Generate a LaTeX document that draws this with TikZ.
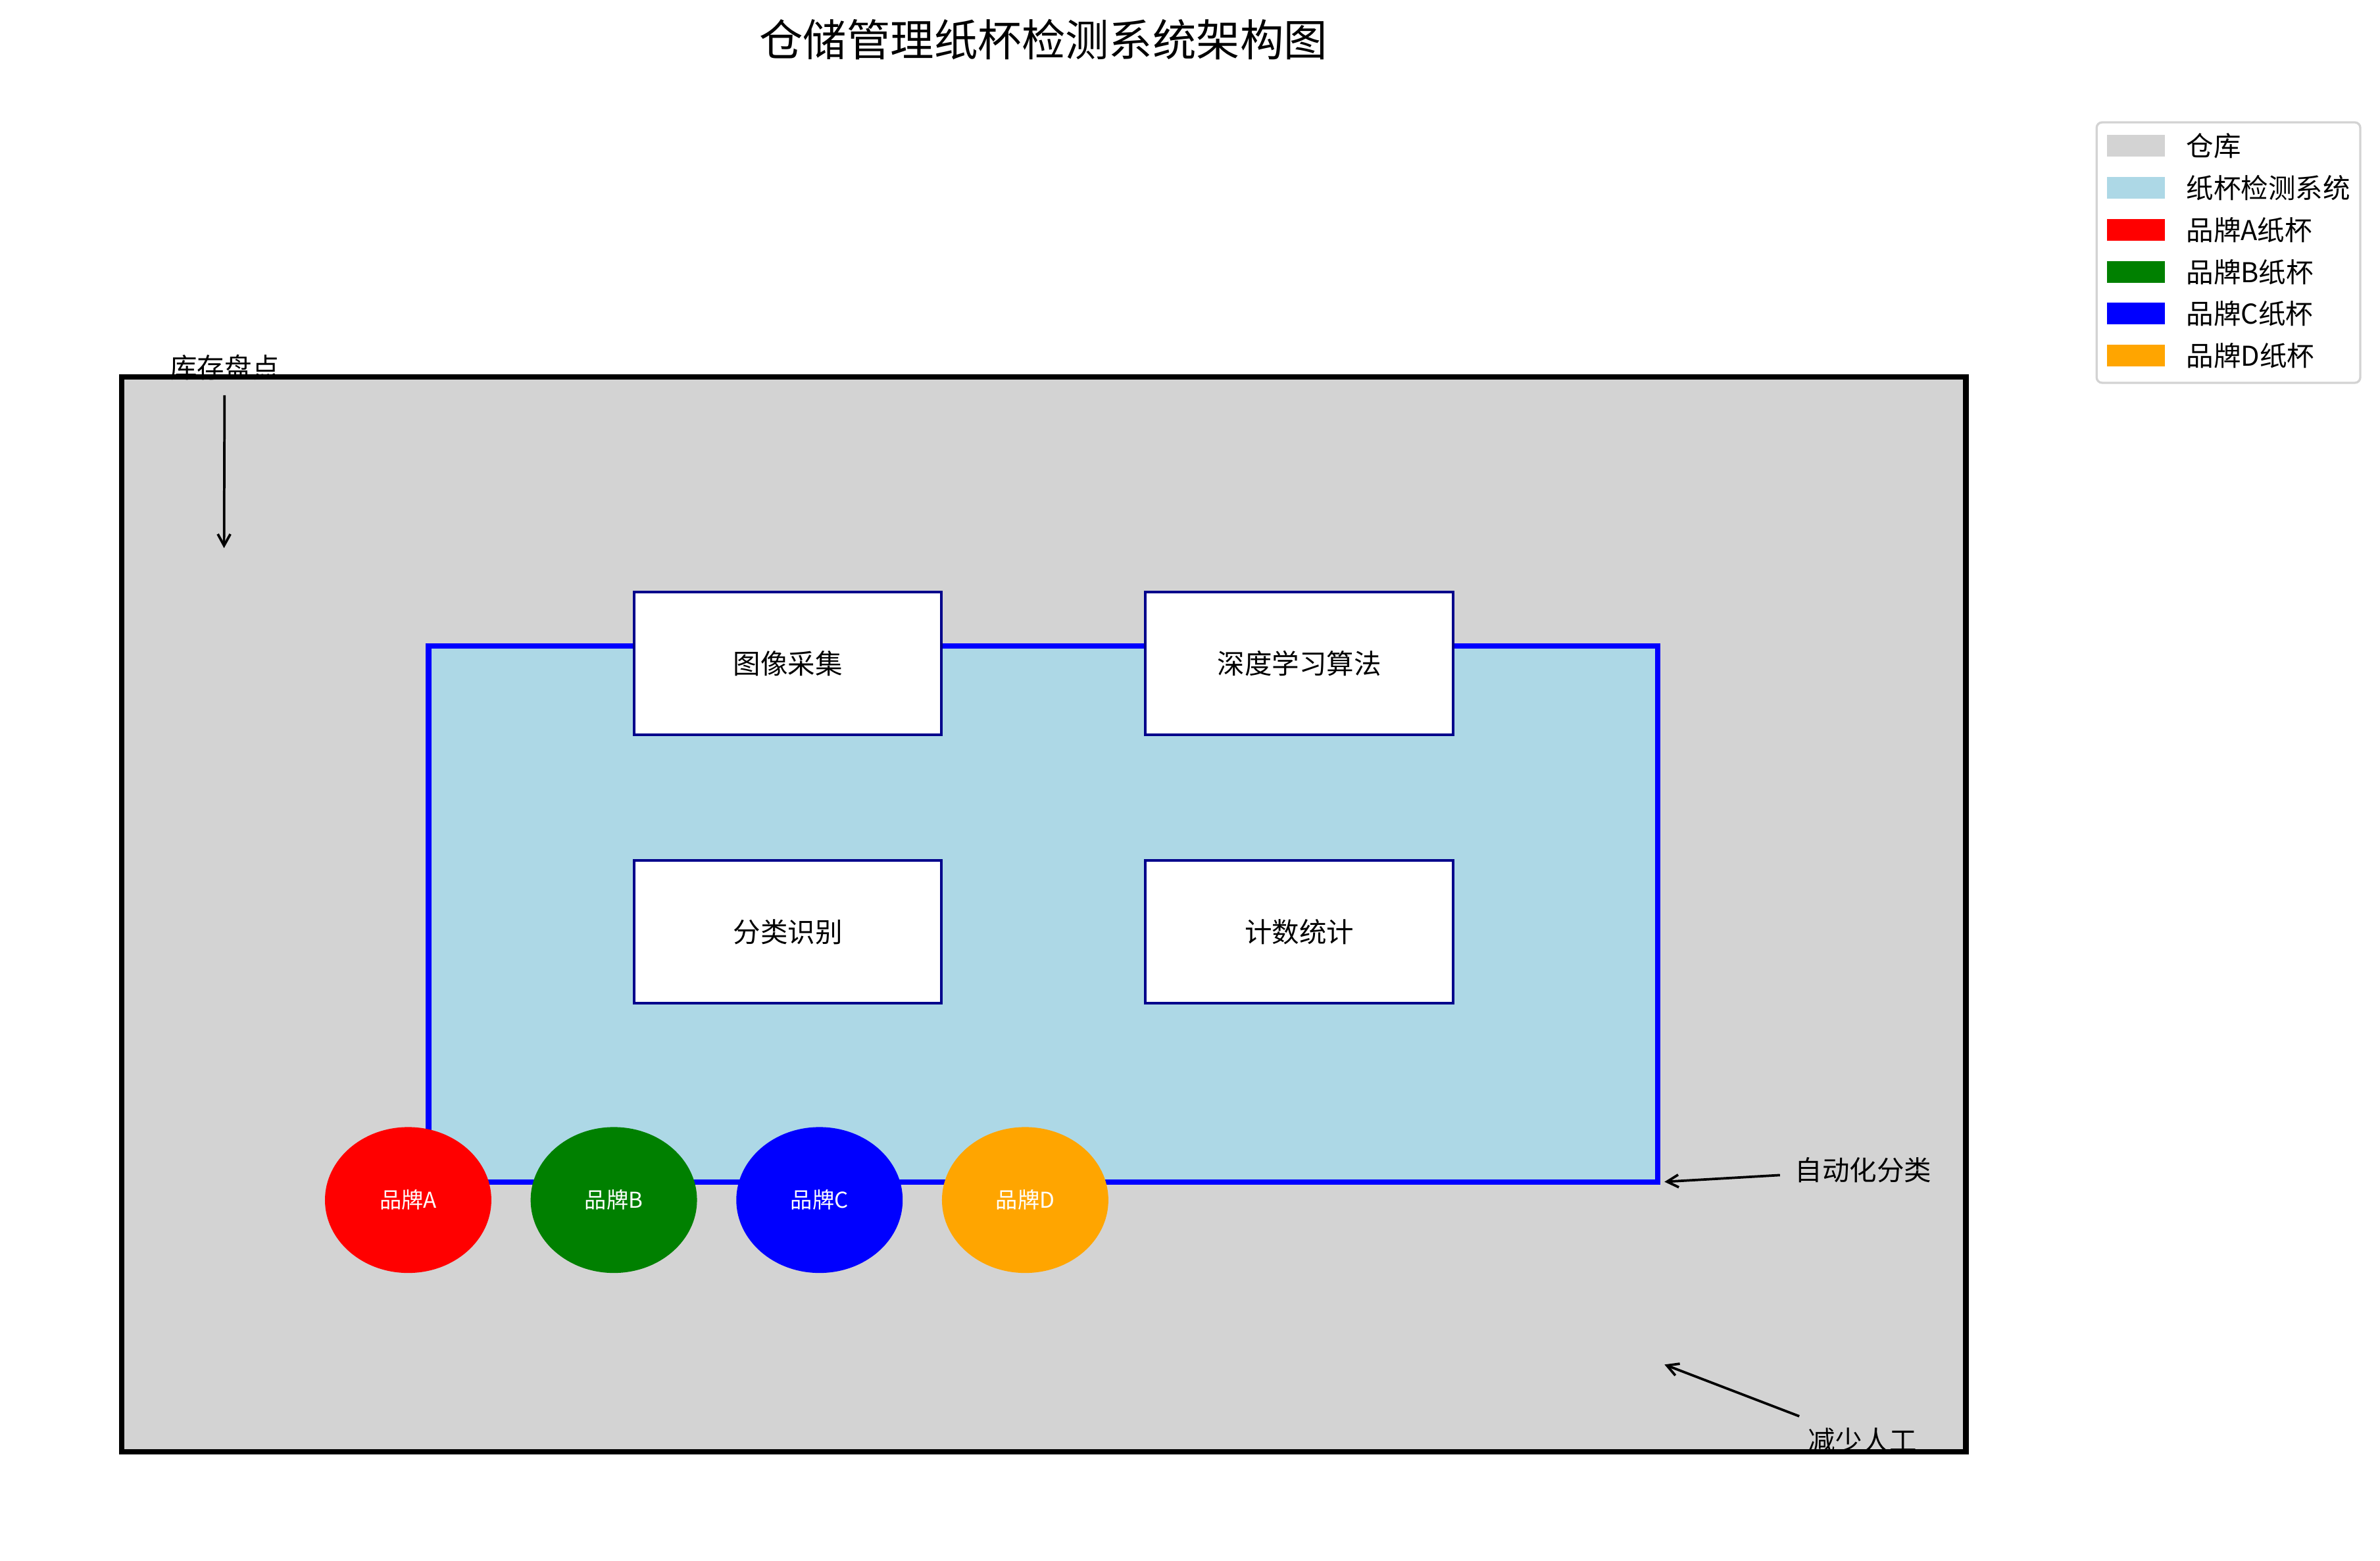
\documentclass[tikz,border=0pt]{standalone}
\usepackage{fontspec}
\setmainfont{Noto Sans CJK SC}
\usetikzlibrary{shapes.geometric, arrows.meta}

\definecolor{warehousegray}{HTML}{D3D3D3}
\definecolor{systemblue}{HTML}{ADD8E6}
\definecolor{cupgreen}{HTML}{008000}
\definecolor{cuporange}{HTML}{FFA500}
\definecolor{boxnavy}{HTML}{00008B}
\definecolor{legendframe}{HTML}{D3D3D3}

\begin{document}
\begin{tikzpicture}[x=0.019536cm, y=-0.019536cm,
        modulebox/.style={rectangle, draw=boxnavy, line width=1pt, fill=white, minimum width=3.958cm, minimum height=1.836cm, font=\fontsize{10}{12}\selectfont},
        brandcup/.style={ellipse, inner sep=0pt, minimum width=2.141cm, minimum height=1.877cm, text=white, font=\fontsize{8}{10}\selectfont},
        legendpatch/.style={rectangle, inner sep=0pt, minimum width=0.748cm, minimum height=0.277cm},
        legendtext/.style={anchor=west, inner sep=0pt, font=\fontsize{10}{12}\selectfont},
        notetext/.style={font=\fontsize{10}{12}\selectfont},
        notearrow/.style={-{Straight Barb[length=4.2pt, width=4.6pt]}, line width=0.9pt, shorten <=2pt}]

        \useasboundingbox (0,0) rectangle (1568,1028);

        % Title
        \node[font=\fontsize{16}{19}\selectfont] (title) at (687.5,26) {仓储管理纸杯检测系统架构图};

        % Warehouse
        \node[rectangle, fill=warehousegray, minimum width=23.717cm, minimum height=13.816cm] (warehouse) at (687.6,602.4) {};

        % Detection system
        \node[rectangle, draw=blue, line width=2pt, fill=systemblue, minimum width=15.816cm, minimum height=6.9cm] (system) at (687.2,602.2) {};

        % Modules
        \node[modulebox] (capture) at (519,437) {图像采集};
        \node[modulebox] (learning) at (856,437) {深度学习算法};
        \node[modulebox] (classify) at (519,614) {分类识别};
        \node[modulebox] (counting) at (856,614) {计数统计};

        % Paper cups
        \node[brandcup, fill=red] (cupA) at (268.9,790.6) {品牌A};
        \node[brandcup, fill=cupgreen] (cupB) at (404.4,790.6) {品牌B};
        \node[brandcup, fill=blue] (cupC) at (539.9,790.6) {品牌C};
        \node[brandcup, fill=cuporange] (cupD) at (675.4,790.6) {品牌D};

        % Notes
        \node[notetext] (inventory) at (148,242) {库存盘点};
        \coordinate (inventorytip) at (147.6,361.1);
        \draw[notearrow] (inventory) -- (inventorytip);

        \node[notetext] (autosort) at (1227.6,771) {自动化分类};
        \coordinate (autosorttip) at (1096.6,778.6);
        \draw[notearrow] (autosort) -- (autosorttip);

        \node[notetext] (lesslabor) at (1227,949) {减少人工};
        \coordinate (lesslabortip) at (1096.6,899);
        \draw[notearrow] (lesslabor) -- (lesslabortip);

        % Warehouse border
        \draw[line width=2pt] (warehouse.north west) rectangle (warehouse.south east);

        % Legend
        \draw[legendframe, line width=0.8pt, fill=white, rounded corners=2pt] (1381.3,80.6) rectangle (1555,252.2);
        \node[legendpatch, fill=warehousegray] (keywarehouse) at (1407.2,96.1) {};
        \node[legendtext] (keywarehousetext) at (1440,96.1) {仓库};
        \node[legendpatch, fill=systemblue] (keysystem) at (1407.2,123.8) {};
        \node[legendtext] (keysystemtext) at (1440,123.8) {纸杯检测系统};
        \node[legendpatch, fill=red] (keyA) at (1407.2,151.4) {};
        \node[legendtext] (keyAtext) at (1440,151.4) {品牌A纸杯};
        \node[legendpatch, fill=cupgreen] (keyB) at (1407.2,179.1) {};
        \node[legendtext] (keyBtext) at (1440,179.1) {品牌B纸杯};
        \node[legendpatch, fill=blue] (keyC) at (1407.2,206.6) {};
        \node[legendtext] (keyCtext) at (1440,206.6) {品牌C纸杯};
        \node[legendpatch, fill=cuporange] (keyD) at (1407.2,234.3) {};
        \node[legendtext] (keyDtext) at (1440,234.3) {品牌D纸杯};
    \end{tikzpicture}
\end{document}
